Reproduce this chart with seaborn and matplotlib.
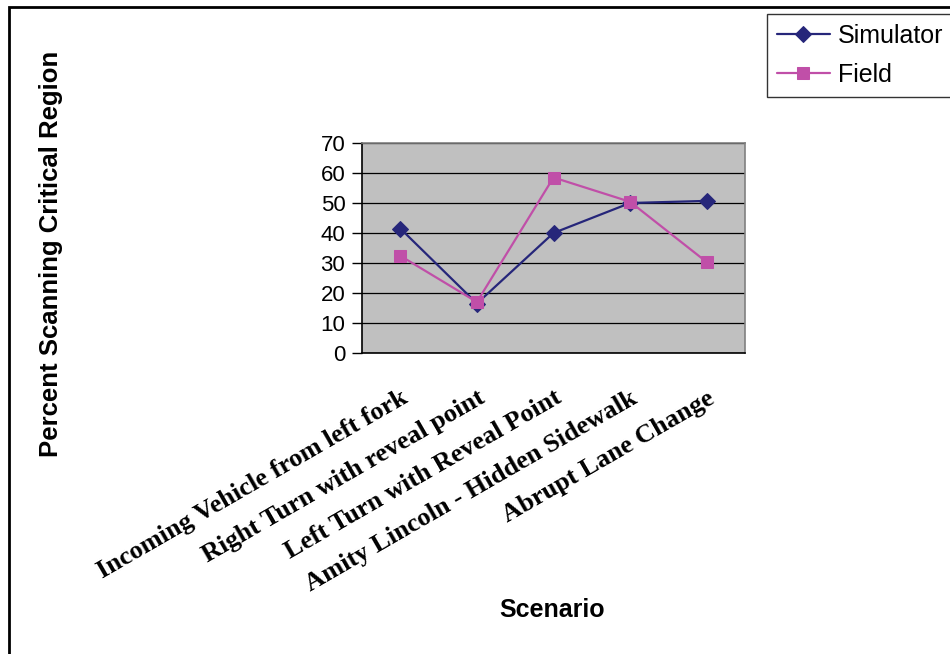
import matplotlib
matplotlib.use("Agg")
import matplotlib.pyplot as plt
from matplotlib.patches import Rectangle
import numpy as np
import pandas as pd
import seaborn as sns

scenarios = [
    "Incoming Vehicle from left fork",
    "Right Turn with reveal point",
    "Left Turn with Reveal Point",
    "Amity Lincoln - Hidden Sidewalk",
    "Abrupt Lane Change",
]
simulator = [41.5, 16.5, 40.0, 50.0, 50.7]
field = [32.4, 17.0, 58.5, 50.4, 30.3]
y_ticks = [0, 10, 20, 30, 40, 50, 60, 70]

sns.set_theme(style="white")
plt.rcParams["font.family"] = ["Liberation Sans", "DejaVu Sans"]
plt.rcParams.update({"text.color": "black", "axes.labelcolor": "black",
                     "xtick.color": "black", "ytick.color": "black"})

df = pd.DataFrame({
    "pos": list(range(len(scenarios))) * 2,
    "value": simulator + field,
    "series": ["Simulator"] * len(scenarios) + ["Field"] * len(scenarios),
})

fig = plt.figure(figsize=(9.5, 6.54), dpi=100)
ax = fig.add_axes([362 / 950, 1 - 353 / 654, (745 - 362) / 950, (353 - 143) / 654])
ax.set_facecolor("#C0C0C0")

palette = {"Simulator": "#26267A", "Field": "#C04FA8"}
markers = {"Simulator": "D", "Field": "s"}
sizes = {"Simulator": 8, "Field": 8.5}

for name in ["Simulator", "Field"]:
    sub = df[df["series"] == name]
    sns.lineplot(data=sub, x="pos", y="value", ax=ax, color=palette[name],
                 marker=markers[name], markersize=sizes[name],
                 markeredgecolor=palette[name], linewidth=1.6, label=name)

ax.set_xlim(-0.5, len(scenarios) - 0.5)
ax.set_ylim(0, 70)
ax.set_yticks(y_ticks)
ax.set_yticklabels([str(t) for t in y_ticks], fontsize=16, color="black")
ax.yaxis.grid(True, color="black", linewidth=0.9)
ax.set_axisbelow(True)
ax.tick_params(axis="y", direction="out", length=7, width=1, color="black",
               left=True, pad=5)
ax.tick_params(axis="x", length=0, pad=24)
ax.set_xticks(range(len(scenarios)))
ax.set_xticklabels(scenarios, rotation=30, ha="right", va="top",
                   rotation_mode="anchor", fontsize=19, color="black",
                   family=["Liberation Serif", "DejaVu Serif"], fontweight="bold")

for side in ["top", "right"]:
    ax.spines[side].set_color("#808080")
    ax.spines[side].set_linewidth(1.2)
for side in ["left", "bottom"]:
    ax.spines[side].set_color("black")
    ax.spines[side].set_linewidth(1.2)

ax.set_xlabel("")
ax.set_ylabel("")
fig.text(51 / 950, 1 - 254 / 654, "Percent Scanning Critical Region",
         rotation=90, ha="center", va="center", fontsize=18.5, fontweight="bold")
fig.text(552 / 950, 1 - 610 / 654, "Scenario", ha="center", va="center",
         fontsize=18, fontweight="bold")

leg = ax.legend(loc="upper left", bbox_to_anchor=(767 / 950, 1 - 14 / 654),
                bbox_transform=fig.transFigure, fontsize=18, frameon=True,
                fancybox=False, edgecolor="black", handlelength=2.1,
                handletextpad=0.35, borderpad=0.4, labelspacing=0.6,
                borderaxespad=0)
leg.get_frame().set_linewidth(1.0)
for t in leg.get_texts():
    t.set_color("black")

# outer frame around the chart area
fig.patches.append(Rectangle((8.5 / 950, -0.1), 1.2, 1.1 - 7 / 654,
                             transform=fig.transFigure, fill=False,
                             edgecolor="black", linewidth=2))

fig.savefig("out.png", dpi=100)
